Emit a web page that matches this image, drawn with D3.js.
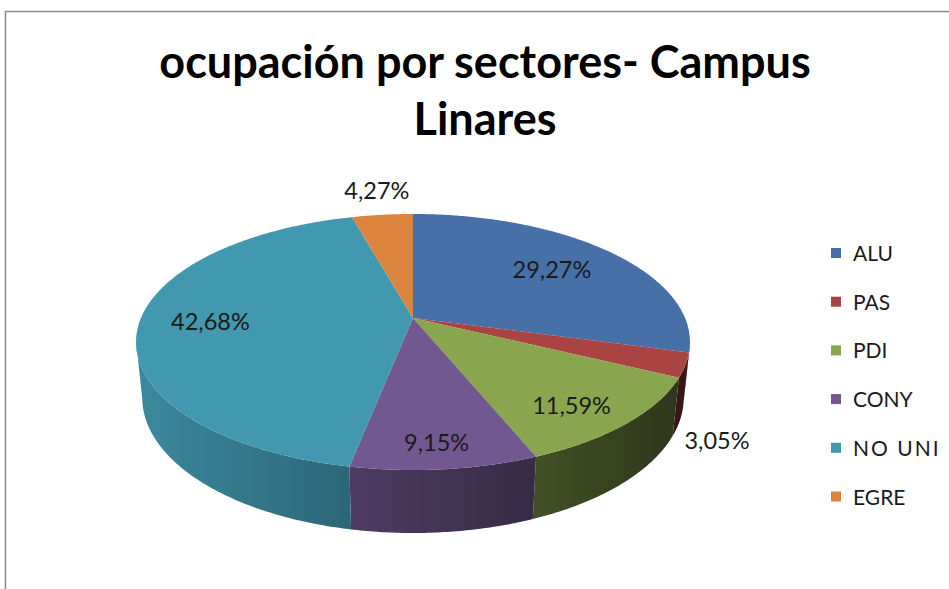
<!DOCTYPE html>
<html>
<head>
<meta charset="utf-8">
<script src="https://cdn.jsdelivr.net/npm/d3@7"></script>
<style>
  body { margin: 0; background: #fff; }
  text { font-family: Lato, "Open Sans", sans-serif; }
</style>
</head>
<body>
<svg id="chart" width="949" height="589"></svg>
<script>
var width = 949, height = 589

// data
var sectors = ['ALU', 'PAS', 'PDI', 'CONY', 'NO UNI', 'EGRE']
var values = [29.27, 3.05, 11.59, 9.15, 42.68, 4.27]
var colors = ['#4670A7', '#AA4442', '#89A54E', '#71588F', '#4198AF', '#DB843D']
var titleLines = ['ocupación por sectores- Campus', 'Linares']

// 3d view of the pie (perspective)
var cx = 413, cy = 318
var focal = 1293, dist = 4.753
var tilt = 27 * Math.PI / 180
var thick = 0.2308
var sinA = Math.sin(tilt), cosA = Math.cos(tilt)

function project(r, theta, h) {
  var X = r * Math.sin(theta), Z = r * Math.cos(theta)
  var yc = Z * sinA - h * cosA
  var zc = dist + Z * cosA + h * sinA
  return [cx + focal * X / zc, cy - focal * yc / zc]
}

function arcPoints(a0, a1, h) {
  var n = Math.max(2, Math.ceil(Math.abs(a1 - a0) / 0.01))
  return d3.range(n + 1).map(function(i) {
    return project(1, a0 + (a1 - a0) * i / n, h)
  })
}

// darker to the right, like the excel lighting
function shade(c, x) {
  var k = Math.max(0.3, Math.min(0.92, 0.9 - (x - 140) * 0.00105))
  var col = d3.rgb(c)
  return d3.rgb(col.r * k, col.g * k, col.b * k)
}

var svg = d3.select('#chart')
var defs = svg.append('defs')

// frame
svg.append('rect')
  .attr('x', 5.5).attr('y', 11.5)
  .attr('width', width + 20).attr('height', height + 20)
  .attr('fill', 'none')
  .attr('stroke', '#8a8a8a')
  .attr('stroke-width', 1.5)

// title
svg.append('g').selectAll('text')
  .data(titleLines)
  .enter().append('text')
  .attr('x', 485)
  .attr('y', function(d, i) { return 78 + i * 57 })
  .attr('text-anchor', 'middle')
  .style('font-size', '45px')
  .style('font-weight', 'bold')
  .attr('fill', '#000')
  .text(function(d) { return d })

var pie = d3.pie().sort(null).value(function(d) { return d })
var arcs = pie(values)

var line = d3.line()
var tangent = Math.acos(-cosA / dist)   // silhouette angle
var tRight = tangent, tLeft = 2 * Math.PI - tangent

// side walls
var walls = svg.append('g')
arcs.forEach(function(a, i) {
  var a0 = Math.max(a.startAngle, tRight)
  var a1 = Math.min(a.endAngle, tLeft)
  if (a1 <= a0) return
  var top = arcPoints(a0, a1, 0)
  var bottom = arcPoints(a1, a0, thick)
  var pts = top.concat(bottom)
  var xs = pts.map(function(p) { return p[0] })
  var x0 = d3.min(xs), x1 = d3.max(xs)
  var grad = defs.append('linearGradient')
    .attr('id', 'wall' + i)
    .attr('gradientUnits', 'userSpaceOnUse')
    .attr('x1', x0).attr('x2', x1).attr('y1', 0).attr('y2', 0)
  grad.append('stop').attr('offset', 0).attr('stop-color', shade(colors[i], x0))
  grad.append('stop').attr('offset', 1).attr('stop-color', shade(colors[i], x1))
  walls.append('path')
    .attr('d', line(pts) + 'Z')
    .attr('fill', 'url(#wall' + i + ')')
})

// top faces
svg.append('g').selectAll('path')
  .data(arcs)
  .enter().append('path')
  .attr('d', function(a) {
    var pts = [[cx, cy]].concat(arcPoints(a.startAngle, a.endAngle, 0))
    return line(pts) + 'Z'
  })
  .attr('fill', function(a, i) { return colors[i] })

// data labels
var labelG = svg.append('g')
arcs.forEach(function(a, i) {
  var mid = (a.startAngle + a.endAngle) / 2
  var txt = values[i].toFixed(2).replace('.', ',') + '%'
  var t = labelG.append('text')
    .attr('text-anchor', 'middle')
    .attr('dy', '0.35em')
    .style('font-size', '23.5px')
    .attr('fill', '#1a1a1a')
    .text(txt)
  var x, y
  if (values[i] >= 5) {
    var rim = project(1, mid, 0)
    x = cx + 0.74 * (rim[0] - cx) - 8 * Math.max(0, Math.cos(mid))
    y = cy + 0.72 * (rim[1] - cy) + 16 * Math.max(0, -Math.cos(mid))
  } else {
    var w = t.node().getComputedTextLength() / 2
    var p = Math.cos(mid) > 0 ? project(1, mid, 0) : project(1, mid, thick)
    x = p[0] + Math.sin(mid) * (w + 8)
    y = p[1] - Math.cos(mid) * (8 + 16) + (Math.cos(mid) < 0 ? 10 : 0)
  }
  t.attr('x', x).attr('y', y)
})

// legend
var legend = svg.append('g').selectAll('g')
  .data(sectors)
  .enter().append('g')
  .attr('transform', function(d, i) { return 'translate(831,' + (248 + i * 48.7) + ')' })

legend.append('rect')
  .attr('width', 10).attr('height', 10)
  .attr('fill', function(d, i) { return colors[i] })

legend.append('text')
  .attr('x', 22).attr('y', 13)
  .style('font-size', '21px')
  .style('letter-spacing', function(d) { return d == 'NO UNI' ? '2px' : null })
  .attr('fill', '#1a1a1a')
  .text(function(d) { return d })
</script>
</body>
</html>
